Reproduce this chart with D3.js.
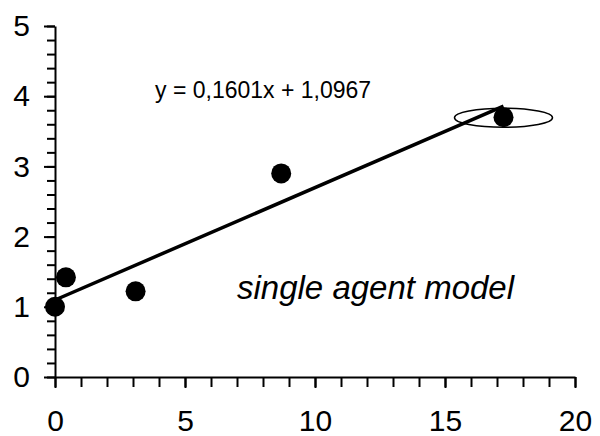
<!DOCTYPE html>
<html>
<head>
<meta charset="utf-8">
<script src="https://cdn.jsdelivr.net/npm/d3@7"></script>
<style>
  body { margin: 0; background: #fff; }
  text { font-family: "Liberation Sans", Arial, sans-serif; fill: #000; }
</style>
</head>
<body>
<div id="chart"></div>
<script>
// Data
const xValues = [0, 0.42, 3.1, 8.7, 17.25];
const yValues = [1.0, 1.42, 1.22, 2.9, 3.7];
const trendCoef = [0.1601, 1.0967]; // slope, intercept
const xTicks = [0, 5, 10, 15, 20];
const yTicks = [0, 1, 2, 3, 4, 5];
const equationLabel = "y = 0,1601x + 1,0967";
const modelLabel = "single agent model";

const width = 600;
const height = 436;
const margin = {"top": 26, "right": 25, "bottom": 59, "left": 55};

const svg = d3.select("#chart")
  .append("svg")
  .attr("width", width)
  .attr("height", height);

const x = d3.scaleLinear().domain([0, 20]).range([margin.left, width - margin.right]);
const y = d3.scaleLinear().domain([0, 5]).range([height - margin.bottom, margin.top]);

// minor ticks
const xMinor = d3.range(0, 21, 1);
const yMinor = d3.range(0, 5.01, 0.2);

const xAxis = svg.append("g")
  .attr("transform", "translate(0," + y(0) + ")");
xAxis.append("g")
  .call(d3.axisBottom(x).tickValues(xMinor).tickSize(10).tickFormat(""))
  .call(g => g.select(".domain").remove());
xAxis.append("g")
  .call(d3.axisBottom(x).tickValues(xTicks).tickSize(11).tickPadding(22).tickSizeOuter(0).tickFormat(d3.format("d")))
  .call(g => g.selectAll("text").style("font-size", "30px"));
xAxis.selectAll("line, path").attr("stroke", "#000").attr("stroke-width", 2);

const yAxis = svg.append("g")
  .attr("transform", "translate(" + x(0) + ",0)");
yAxis.append("g")
  .call(d3.axisLeft(y).tickValues(yMinor).tickSize(8).tickFormat(""))
  .call(g => g.select(".domain").remove());
yAxis.append("g")
  .call(d3.axisLeft(y).tickValues(yTicks).tickSize(11).tickPadding(14).tickSizeOuter(0).tickFormat(d3.format("d")))
  .call(g => g.selectAll("text").style("font-size", "30px"));
yAxis.selectAll("line, path").attr("stroke", "#000").attr("stroke-width", 2);

// trend line
const xLast = d3.max(xValues);
const trend = [0, xLast].map(v => [v, trendCoef[0] * v + trendCoef[1]]);
svg.append("line")
  .attr("x1", x(trend[0][0]))
  .attr("y1", y(trend[0][1]))
  .attr("x2", x(trend[1][0]))
  .attr("y2", y(trend[1][1]))
  .attr("stroke", "#000")
  .attr("stroke-width", 3.5);

// points
svg.selectAll(".dot")
  .data(xValues.map((v, i) => [v, yValues[i]]))
  .enter()
  .append("circle")
  .attr("class", "dot")
  .attr("cx", d => x(d[0]))
  .attr("cy", d => y(d[1]))
  .attr("r", 10)
  .attr("fill", "#000");

// ellipse highlighting the last point
svg.append("ellipse")
  .attr("cx", x(xLast))
  .attr("cy", y(yValues[yValues.length - 1]) + 0.5)
  .attr("rx", 49)
  .attr("ry", 9.5)
  .attr("fill", "none")
  .attr("stroke", "#000")
  .attr("stroke-width", 1.5);

svg.append("text")
  .attr("x", 155)
  .attr("y", 98)
  .style("font-size", "23px")
  .text(equationLabel);

svg.append("text")
  .attr("x", 237)
  .attr("y", 299)
  .style("font-size", "33px")
  .style("font-style", "italic")
  .text(modelLabel);
</script>
</body>
</html>
